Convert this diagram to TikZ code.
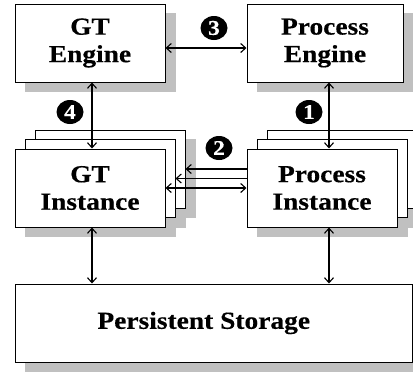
\documentclass[tikz,border=0pt]{standalone}
\usepackage{fontspec}
\setmainfont[FakeStretch=1.12,BoldFeatures={FakeBold=0.4}]{Liberation Serif}
\usetikzlibrary{arrows.meta,shapes.geometric,backgrounds}
\definecolor{shadowgray}{RGB}{192,192,192}
\begin{document}
\begin{tikzpicture}[x=1pt,y=-1pt,
  box/.style={draw=black, line width=1pt, fill=white, inner sep=0pt,
    minimum width=150pt, minimum height=78pt, align=center,
    font=\fontsize{24.5}{27.5}\selectfont\bfseries},
  numlabel/.style={ellipse, fill=black, text=white, inner sep=0pt,
    minimum width=27pt, minimum height=24pt,
    font=\fontsize{21}{21}\selectfont\bfseries},
  conn/.style={line width=1.1pt, {Straight Barb[length=5pt,width=9pt]}-{Straight Barb[length=5pt,width=9pt]}},
  lconn/.style={line width=1.1pt, {Straight Barb[length=5pt,width=9pt]}-},
  shade/.style={fill=shadowgray}]
\useasboundingbox (0,0) rectangle (413,375);

% engines
\node[box] (ge) at (90,43) {GT\\Engine};
\node[box, minimum width=156pt] (pe) at (325,43) {Process\\Engine};

% GT instance stack
\node[box] (gi3) at (110,169) {};
\node[box] (gi2) at (100,178.5) {};
\node[box] (gi1) at (90,188) {GT\\Instance};

% Process instance stack
\node[box] (pi3) at (342,169) {};
\node[box] (pi2) at (332,178.5) {};
\node[box] (pi1) at (322,188) {Process\\Instance};

% storage
\node[box, minimum width=397.5pt] (st) at (213.75,323) {\hspace*{-20pt}Persistent Storage};

% shadows
\begin{scope}[on background layer]
  \fill[white] (0,0) rectangle (413,375);
  \foreach \n in {ge,pe,gi3,gi2,gi1,pi3,pi2,pi1,st}{
    \fill[shade] ([shift={(10,9.5)}]\n.north west) rectangle ([shift={(10,9.5)}]\n.south east);
  }
\end{scope}

% connectors
\draw[conn] ([yshift=-5pt]ge.east) -- ([yshift=-5pt]pe.west);
\draw[conn] ([xshift=2pt]ge.south) -- ([xshift=2pt]ge.south |- gi1.north);
\draw[conn] ([xshift=4pt]pe.south) -- ([xshift=4pt]pe.south |- pi1.north);
\draw[conn] ([xshift=2pt]gi1.south) -- ([xshift=2pt]gi1.south |- st.north);
\draw[conn] ([xshift=4pt]pe.south |- pi1.south) -- ([xshift=4pt]pe.south |- st.north);
\draw[lconn] (gi3.east) -- (pi1.west |- gi3.east);
\draw[lconn] (gi2.east) -- (pi1.west |- gi2.east);
\draw[conn] (gi1.east) -- (pi1.west);

% number labels
\node[numlabel] (n3) at (214,28) {3};
\node[numlabel] (n2) at (219,148) {2};
\node[numlabel] (n4) at (70,112) {4};
\node[numlabel] (n1) at (309,112) {1};
\end{tikzpicture}
\end{document}
